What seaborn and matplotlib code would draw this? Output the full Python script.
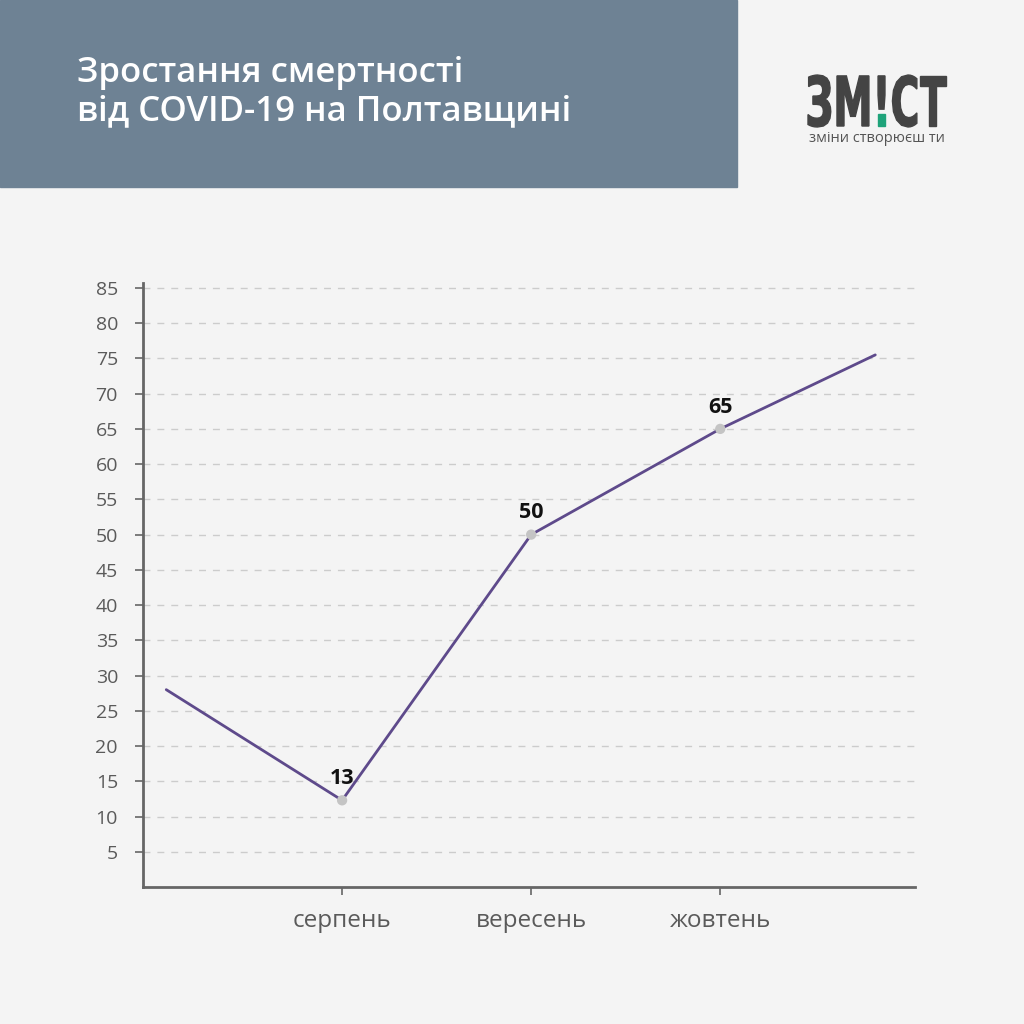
import matplotlib
matplotlib.use("Agg")
import matplotlib.pyplot as plt
import matplotlib.patches as mpatches
from matplotlib.textpath import TextPath
from matplotlib.font_manager import FontProperties
from matplotlib.transforms import Affine2D
import seaborn as sns
import pandas as pd

# chart data
MONTHS = ["серпень", "вересень", "жовтень"]
LINE_X = [-0.93, 0, 1, 2, 2.82]
LINE_Y = [28, 12.3, 50, 65, 75.5]
POINT_X = [0, 1, 2]
POINT_Y = [12.3, 50, 65]
POINT_LABELS = ["13", "50", "65"]
Y_TICKS = [5, 10, 15, 20, 25, 30, 35, 40, 45, 50, 55, 60, 65, 70, 75, 80, 85]

TITLE = "Зростання смертності\nвід COVID-19 на Полтавщині"
LOGO = "ЗМ!СТ"
SLOGAN = "зміни створюєш ти"

BG = "#f4f4f4"
HEADER = "#6e8294"
LINE_COLOR = "#5e4a8b"
TEXT_GRAY = "#5a5a5a"
LOGO_GRAY = "#444444"
LOGO_GREEN = "#1fa37a"

sns.set_theme(style="white")
plt.rcParams["font.family"] = ["Open Sans", "DejaVu Sans"]

W = H = 1024
fig = plt.figure(figsize=(10.24, 10.24), dpi=100, facecolor=BG)

# header block
fig.patches.append(mpatches.Rectangle((0, 1 - 187 / H), 737 / W, 187 / H,
                                      transform=fig.transFigure, color=HEADER, zorder=0))
fig.text(77 / W, 1 - 92 / H, TITLE, color="white", fontsize=25, fontweight="semibold",
         va="center", ha="left", linespacing=1.15)

# logo: condensed bold letters, the dot of "!" in green
prop = FontProperties(family="DejaVu Sans", weight="bold")
full = TextPath((0, 0), LOGO, size=1, prop=prop)
bang_start = TextPath((0, 0), LOGO[:2], size=1, prop=prop).get_extents().x1
bang_end = TextPath((0, 0), LOGO[:3], size=1, prop=prop).get_extents().x1
ext = full.get_extents()
sx = (946 - 808) / ext.width
sy = (127 - 75) / ext.height
logo_tr = Affine2D().translate(-ext.x0, -ext.y0).scale(sx, sy).translate(808, H - 127)
for poly in full.to_polygons():
    cx = poly[:, 0].mean()
    is_dot = bang_start < cx < bang_end + 0.05 and poly[:, 1].max() < 0.3
    color = LOGO_GREEN if is_dot else LOGO_GRAY
    fig.patches.append(mpatches.Polygon(logo_tr.transform(poly), closed=True, color=color,
                                        transform=None, figure=fig))
fig.text(809 / W, 1 - 139 / H, SLOGAN, color="#555555", fontsize=10.5,
         ha="left", va="center")

ax = fig.add_axes([143 / W, 1 - 887 / H, (915 - 143) / W, (887 - 283) / H])
ax.set_facecolor(BG)

df_line = pd.DataFrame({"x": LINE_X, "y": LINE_Y})
df_pts = pd.DataFrame({"x": POINT_X, "y": POINT_Y})

sns.lineplot(data=df_line, x="x", y="y", ax=ax, color=LINE_COLOR, linewidth=2, sort=False, zorder=3)
sns.scatterplot(data=df_pts, x="x", y="y", ax=ax, color="#c4c4c4", s=55, edgecolor="none", zorder=4)

for x, y, lab in zip(POINT_X, POINT_Y, POINT_LABELS):
    ax.annotate(lab, (x, y), xytext=(0, 8), textcoords="offset points", ha="center", va="bottom",
                fontsize=15.5, fontweight="bold", color="#111111")

ax.set_xlim(-1.053, 3.03)
ax.set_ylim(0, 85.7)
ax.set_xticks(range(len(MONTHS)))
ax.set_xticklabels(MONTHS)
ax.set_yticks(Y_TICKS)
ax.set_xlabel("")
ax.set_ylabel("")

for y in Y_TICKS:
    ax.axhline(y, color="#cccccc", linestyle=(0, (5, 5)), linewidth=1, zorder=1)

for side in ["top", "right"]:
    ax.spines[side].set_visible(False)
for side in ["left", "bottom"]:
    ax.spines[side].set_color("#666666")
    ax.spines[side].set_linewidth(2)

ax.tick_params(axis="both", which="both", direction="out", length=6, width=1.2, color="#666666",
               labelcolor=TEXT_GRAY, bottom=True, left=True)
ax.tick_params(axis="y", pad=12, labelsize=14)
ax.tick_params(axis="x", pad=10, labelsize=17.5)

fig.savefig("out.png", dpi=100, facecolor=BG)
